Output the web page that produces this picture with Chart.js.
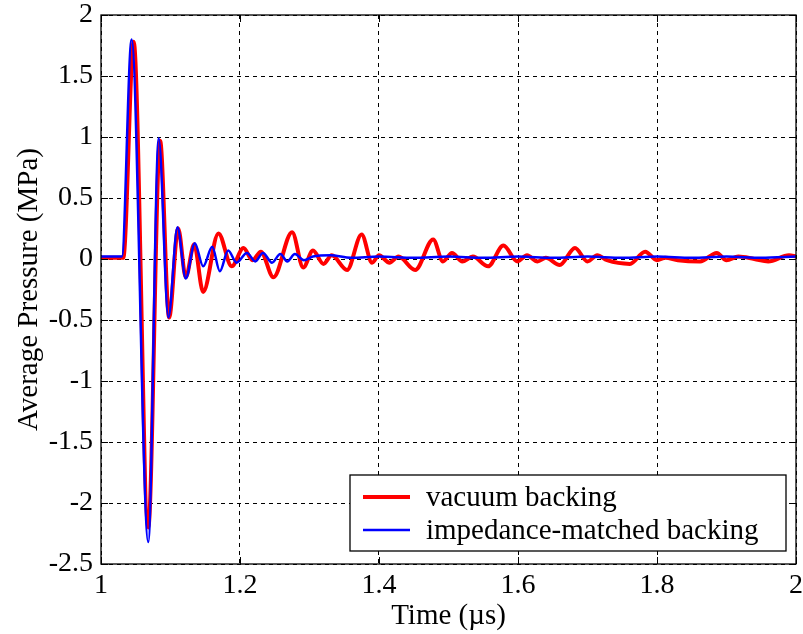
<!DOCTYPE html>
<html>
<head>
<meta charset="utf-8">
<script src="https://cdn.jsdelivr.net/npm/chart.js@4/dist/chart.umd.min.js"></script>
<style>
  html, body { margin: 0; padding: 0; background: #fff; }
  #wrap { width: 803px; height: 634px; }
</style>
</head>
<body>
<div id="wrap"><canvas id="pressureChart" width="803" height="634"></canvas></div>
<script>
// Data (time in microseconds, pressure in MPa)
const timeVacuum = [1.000, 1.032, 1.047, 1.068, 1.085, 1.098, 1.111, 1.122, 1.134, 1.147, 1.169, 1.188, 1.205, 1.218, 1.230, 1.248, 1.275, 1.291, 1.305, 1.320, 1.332, 1.354, 1.375, 1.390, 1.400, 1.415, 1.428, 1.452, 1.478, 1.492, 1.505, 1.520, 1.535, 1.557, 1.579, 1.599, 1.613, 1.628, 1.640, 1.660, 1.682, 1.700, 1.714, 1.728, 1.761, 1.783, 1.800, 1.812, 1.830, 1.862, 1.886, 1.900, 1.917, 1.940, 1.960, 1.990, 2.000];
const vacuumBacking = [0.01, 0.01, 1.78, -2.20, 0.97, -0.48, 0.25, -0.15, 0.12, -0.27, 0.21, -0.06, 0.09, -0.01, 0.06, -0.15, 0.22, -0.07, 0.07, -0.04, 0.03, -0.09, 0.20, -0.03, 0.03, -0.03, 0.02, -0.09, 0.16, -0.02, 0.05, -0.02, 0.02, -0.06, 0.11, -0.02, 0.03, -0.02, 0.01, -0.05, 0.09, -0.02, 0.03, -0.01, -0.04, 0.06, -0.01, 0.01, -0.01, -0.02, 0.05, -0.01, 0.02, 0.00, -0.02, 0.03, 0.02];

const timeMatched = [1.000, 1.030, 1.044, 1.068, 1.083, 1.097, 1.110, 1.122, 1.135, 1.147, 1.160, 1.171, 1.183, 1.195, 1.210, 1.222, 1.233, 1.246, 1.258, 1.268, 1.279, 1.292, 1.305, 1.330, 1.360, 1.400, 1.450, 1.500, 1.550, 1.600, 1.650, 1.700, 1.750, 1.800, 1.850, 1.900, 1.950, 2.000];
const impedanceMatched = [0.02, 0.02, 1.80, -2.32, 0.99, -0.48, 0.26, -0.16, 0.13, -0.06, 0.10, -0.10, 0.07, -0.03, 0.05, -0.02, 0.05, -0.03, 0.04, -0.02, 0.04, -0.01, 0.02, 0.03, 0.01, 0.02, 0.01, 0.02, 0.01, 0.02, 0.01, 0.02, 0.01, 0.02, 0.01, 0.02, 0.01, 0.02];

const xTicks = [1, 1.2, 1.4, 1.6, 1.8, 2];
const yTicks = [-2.5, -2, -1.5, -1, -0.5, 0, 0.5, 1, 1.5, 2];

const serif = '"Liberation Serif", "Times New Roman", serif';

function toPoints(xs, ys) {
  return xs.map((x, i) => ({ x: x, y: ys[i] }));
}

function tickText(v) {
  return String(Math.round(v * 10) / 10);
}

// frame, inner ticks, y title and legend box in MATLAB style
const matlabFrame = {
  id: 'matlabFrame',
  afterDraw(chart) {
    const ctx = chart.ctx;
    const a = chart.chartArea;
    const xs = chart.scales.x, ys = chart.scales.y;
    ctx.save();
    ctx.strokeStyle = '#000';
    ctx.lineWidth = 1.3;
    ctx.setLineDash([]);
    ctx.strokeRect(a.left, a.top, a.right - a.left, a.bottom - a.top);

    ctx.beginPath();
    xTicks.forEach(v => {
      const px = Math.round(xs.getPixelForValue(v)) + 0.5;
      ctx.moveTo(px, a.bottom); ctx.lineTo(px, a.bottom - 7);
      ctx.moveTo(px, a.top); ctx.lineTo(px, a.top + 7);
    });
    yTicks.forEach(v => {
      const py = Math.round(ys.getPixelForValue(v)) + 0.5;
      ctx.moveTo(a.left, py); ctx.lineTo(a.left + 7, py);
      ctx.moveTo(a.right, py); ctx.lineTo(a.right - 7, py);
    });
    ctx.lineWidth = 1;
    ctx.stroke();

    // y axis title
    ctx.fillStyle = '#000';
    ctx.font = '29px ' + serif;
    ctx.textAlign = 'center';
    ctx.textBaseline = 'alphabetic';
    ctx.save();
    ctx.translate(37, (a.top + a.bottom) / 2);
    ctx.rotate(-Math.PI / 2);
    ctx.fillText('Average Pressure (MPa)', 0, 0);
    ctx.restore();

    // legend
    const bx = 350, by = 475, bw = 436, bh = 76;
    ctx.fillStyle = '#fff';
    ctx.fillRect(bx, by, bw, bh);
    ctx.strokeStyle = '#000';
    ctx.lineWidth = 1.3;
    ctx.strokeRect(bx, by, bw, bh);
    ctx.font = '29px ' + serif;
    ctx.textBaseline = 'middle';
    const rows = [497, 530];
    chart.data.datasets.slice().sort((p, q) => p.legendRow - q.legendRow).forEach((ds, i) => {
      ctx.beginPath();
      ctx.strokeStyle = ds.borderColor;
      ctx.lineWidth = ds.borderWidth;
      ctx.moveTo(363, rows[i]); ctx.lineTo(410, rows[i]);
      ctx.stroke();
      ctx.fillStyle = '#000';
      ctx.textAlign = 'left';
      ctx.fillText(ds.label, 426, rows[i] + 1);
    });
    ctx.restore();
  }
};

const ctx = document.getElementById('pressureChart').getContext('2d');
new Chart(ctx, {
  type: 'line',
  data: {
    datasets: [
      {
        label: 'impedance-matched backing',
        data: toPoints(timeMatched, impedanceMatched),
        borderColor: '#0000ff',
        borderWidth: 2.5,
        legendRow: 1,
        order: 0
      },
      {
        label: 'vacuum backing',
        data: toPoints(timeVacuum, vacuumBacking),
        borderColor: '#ff0000',
        borderWidth: 4,
        legendRow: 0,
        order: 1
      }
    ]
  },
  options: {
    responsive: false,
    animation: false,
    layout: { padding: { left: 0, right: 7, top: 15, bottom: 0 } },
    elements: {
      point: { radius: 0 },
      line: { cubicInterpolationMode: 'monotone', fill: false }
    },
    plugins: {
      legend: { display: false },
      tooltip: { enabled: false }
    },
    scales: {
      x: {
        type: 'linear',
        min: 1,
        max: 2,
        afterFit: axis => { axis.height = 70; axis.paddingRight = 0; axis.paddingLeft = 0; },
        afterBuildTicks: axis => { axis.ticks = xTicks.map(v => ({ value: v })); },
        ticks: {
          color: '#000',
          font: { family: serif, size: 28 },
          padding: 5,
          maxRotation: 0,
          callback: tickText
        },
        grid: { color: '#000', lineWidth: 1, drawTicks: false },
        border: { display: false, dash: [4, 4] },
        title: {
          display: true,
          text: 'Time (\u00b5s)',
          color: '#000',
          font: { family: serif, size: 29 },
          padding: { top: 0, bottom: 0 }
        }
      },
      y: {
        min: -2.5,
        max: 2,
        afterFit: axis => { axis.width = 101; axis.paddingTop = 0; axis.paddingBottom = 0; },
        afterBuildTicks: axis => { axis.ticks = yTicks.map(v => ({ value: v })); },
        ticks: {
          color: '#000',
          font: { family: serif, size: 28 },
          padding: 8,
          callback: tickText
        },
        grid: { color: '#000', lineWidth: 1, drawTicks: false },
        border: { display: false, dash: [4, 4] }
      }
    }
  },
  plugins: [matlabFrame]
});
</script>
</body>
</html>
